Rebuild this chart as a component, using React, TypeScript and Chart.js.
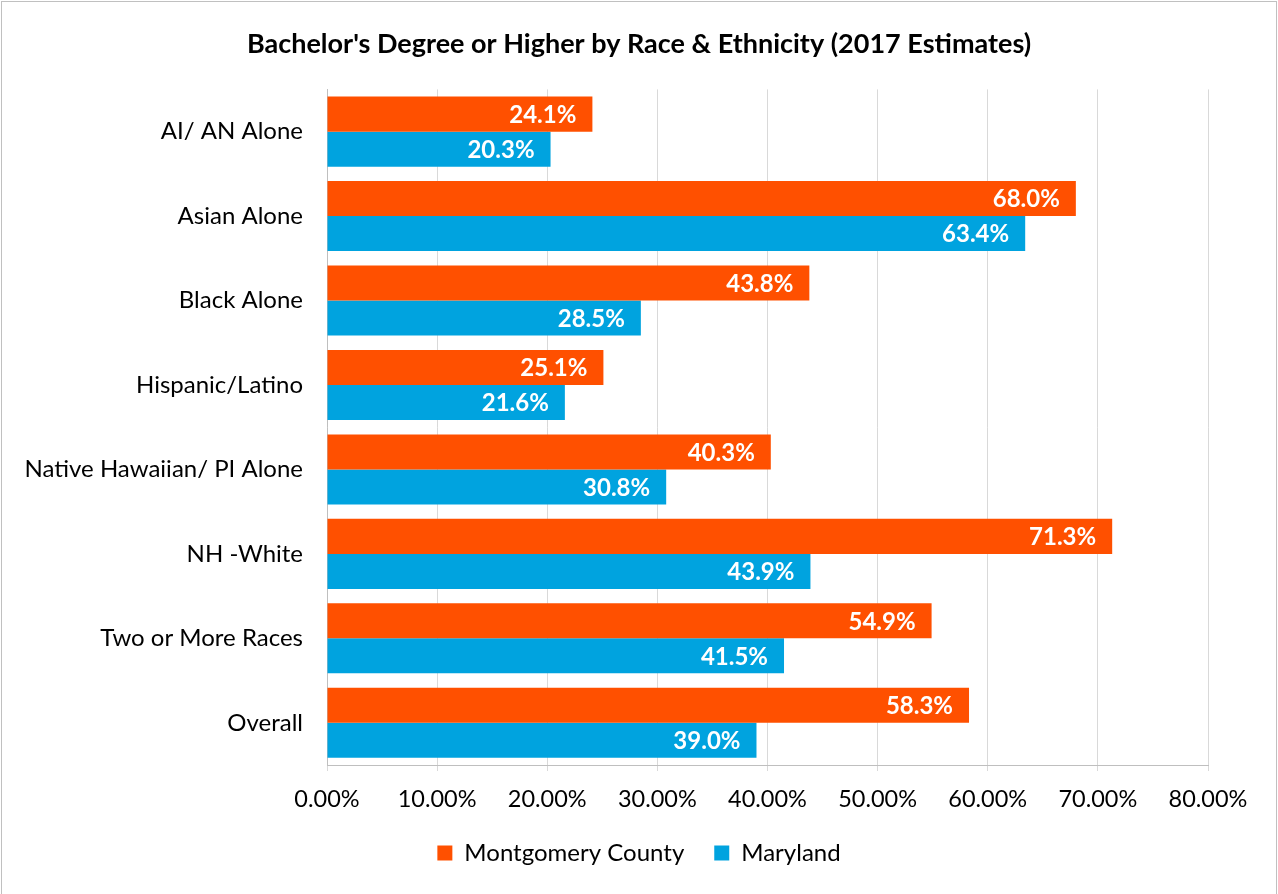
import React, { useEffect, useRef } from "react";
import { Chart, registerables } from "chart.js";

Chart.register(...registerables);

const categories = [
  "AI/ AN Alone",
  "Asian Alone",
  "Black Alone",
  "Hispanic/Latino",
  "Native Hawaiian/ PI Alone",
  "NH -White",
  "Two or More Races",
  "Overall",
];
const montgomery = [24.1, 68.0, 43.8, 25.1, 40.3, 71.3, 54.9, 58.3];
const maryland = [20.3, 63.4, 28.5, 21.6, 30.8, 43.9, 41.5, 39.0];
const seriesNames = ["Montgomery County", "Maryland"];
const xTicks = [0, 10, 20, 30, 40, 50, 60, 70, 80];

const FONT = "Lato, 'Open Sans', sans-serif";

const labelPlugin = {
  id: "barLabels",
  afterDatasetsDraw(chart: any) {
    const ctx = chart.ctx;
    ctx.save();
    ctx.font = `bold 24px ${FONT}`;
    ctx.fillStyle = "#ffffff";
    ctx.textAlign = "right";
    ctx.textBaseline = "middle";
    chart.data.datasets.forEach((ds: any, di: number) => {
      const meta = chart.getDatasetMeta(di);
      meta.data.forEach((el: any, i: number) => {
        const v = ds.data[i];
        ctx.fillText(v.toFixed(1) + "%", el.x - 16, el.y + 1);
      });
    });
    ctx.restore();
  },
};

export default function App() {
  const ref = useRef<HTMLCanvasElement>(null);
  useEffect(() => {
    document.body.style.margin = "0";
    const chart = new Chart(ref.current!, {
      type: "bar",
      data: {
        labels: categories,
        datasets: [
          { label: seriesNames[0], data: montgomery, backgroundColor: "#FF5000" },
          { label: seriesNames[1], data: maryland, backgroundColor: "#00A3DF" },
        ],
      },
      options: {
        indexAxis: "y",
        animation: false,
        responsive: false,
        maintainAspectRatio: false,
        layout: { padding: { top: 0, right: 0, bottom: 19, left: 0 } },
        datasets: {
          bar: { barPercentage: 1.0, categoryPercentage: 0.83 },
        },
        scales: {
          x: {
            min: 0,
            max: 80,
            afterBuildTicks: (s: any) => {
              s.ticks = xTicks.map((v) => ({ value: v }));
            },
            afterFit: (s: any) => {
              s.paddingRight = 70;
              s.height = 46;
            },
            ticks: {
              callback: (v: any) => Number(v).toFixed(2) + "%",
              font: { family: FONT, size: 23.5 },
              color: "#000000",
              padding: 14,
              maxRotation: 0,
            },
            grid: { color: "#d9d9d9", lineWidth: 1, tickLength: 6, drawTicks: true },
            border: { color: "#bfbfbf", width: 1 },
          },
          y: {
            afterFit: (s: any) => {
              s.width = 327;
            },
            ticks: {
              font: { family: FONT, size: 24 },
              color: "#000000",
              padding: 24,
            },
            grid: { display: false, drawTicks: false },
            border: { color: "#bfbfbf", width: 1 },
          },
        },
        plugins: {
          title: {
            display: true,
            text: "Bachelor's Degree or Higher by Race & Ethnicity (2017 Estimates)",
            font: { family: FONT, size: 27, weight: "bold" },
            color: "#000000",
            padding: { top: 28, bottom: 29 },
          },
          legend: {
            position: "bottom",
            labels: {
              boxWidth: 15,
              boxHeight: 15,
              font: { family: FONT, size: 24 },
              color: "#000000",
              padding: 30,
            },
          },
          tooltip: { enabled: false },
        },
      },
      plugins: [labelPlugin],
    });
    return () => chart.destroy();
  }, []);
  return (
    <div style={{ position: "relative", width: 1278, height: 894 }}>
      <canvas ref={ref} width={1278} height={894} style={{ display: "block" }} />
      <div
        style={{
          position: "absolute",
          left: 1,
          top: 1,
          width: 1274,
          height: 900,
          border: "1.5px solid #c0c0c0",
          pointerEvents: "none",
        }}
      />
    </div>
  );
}
